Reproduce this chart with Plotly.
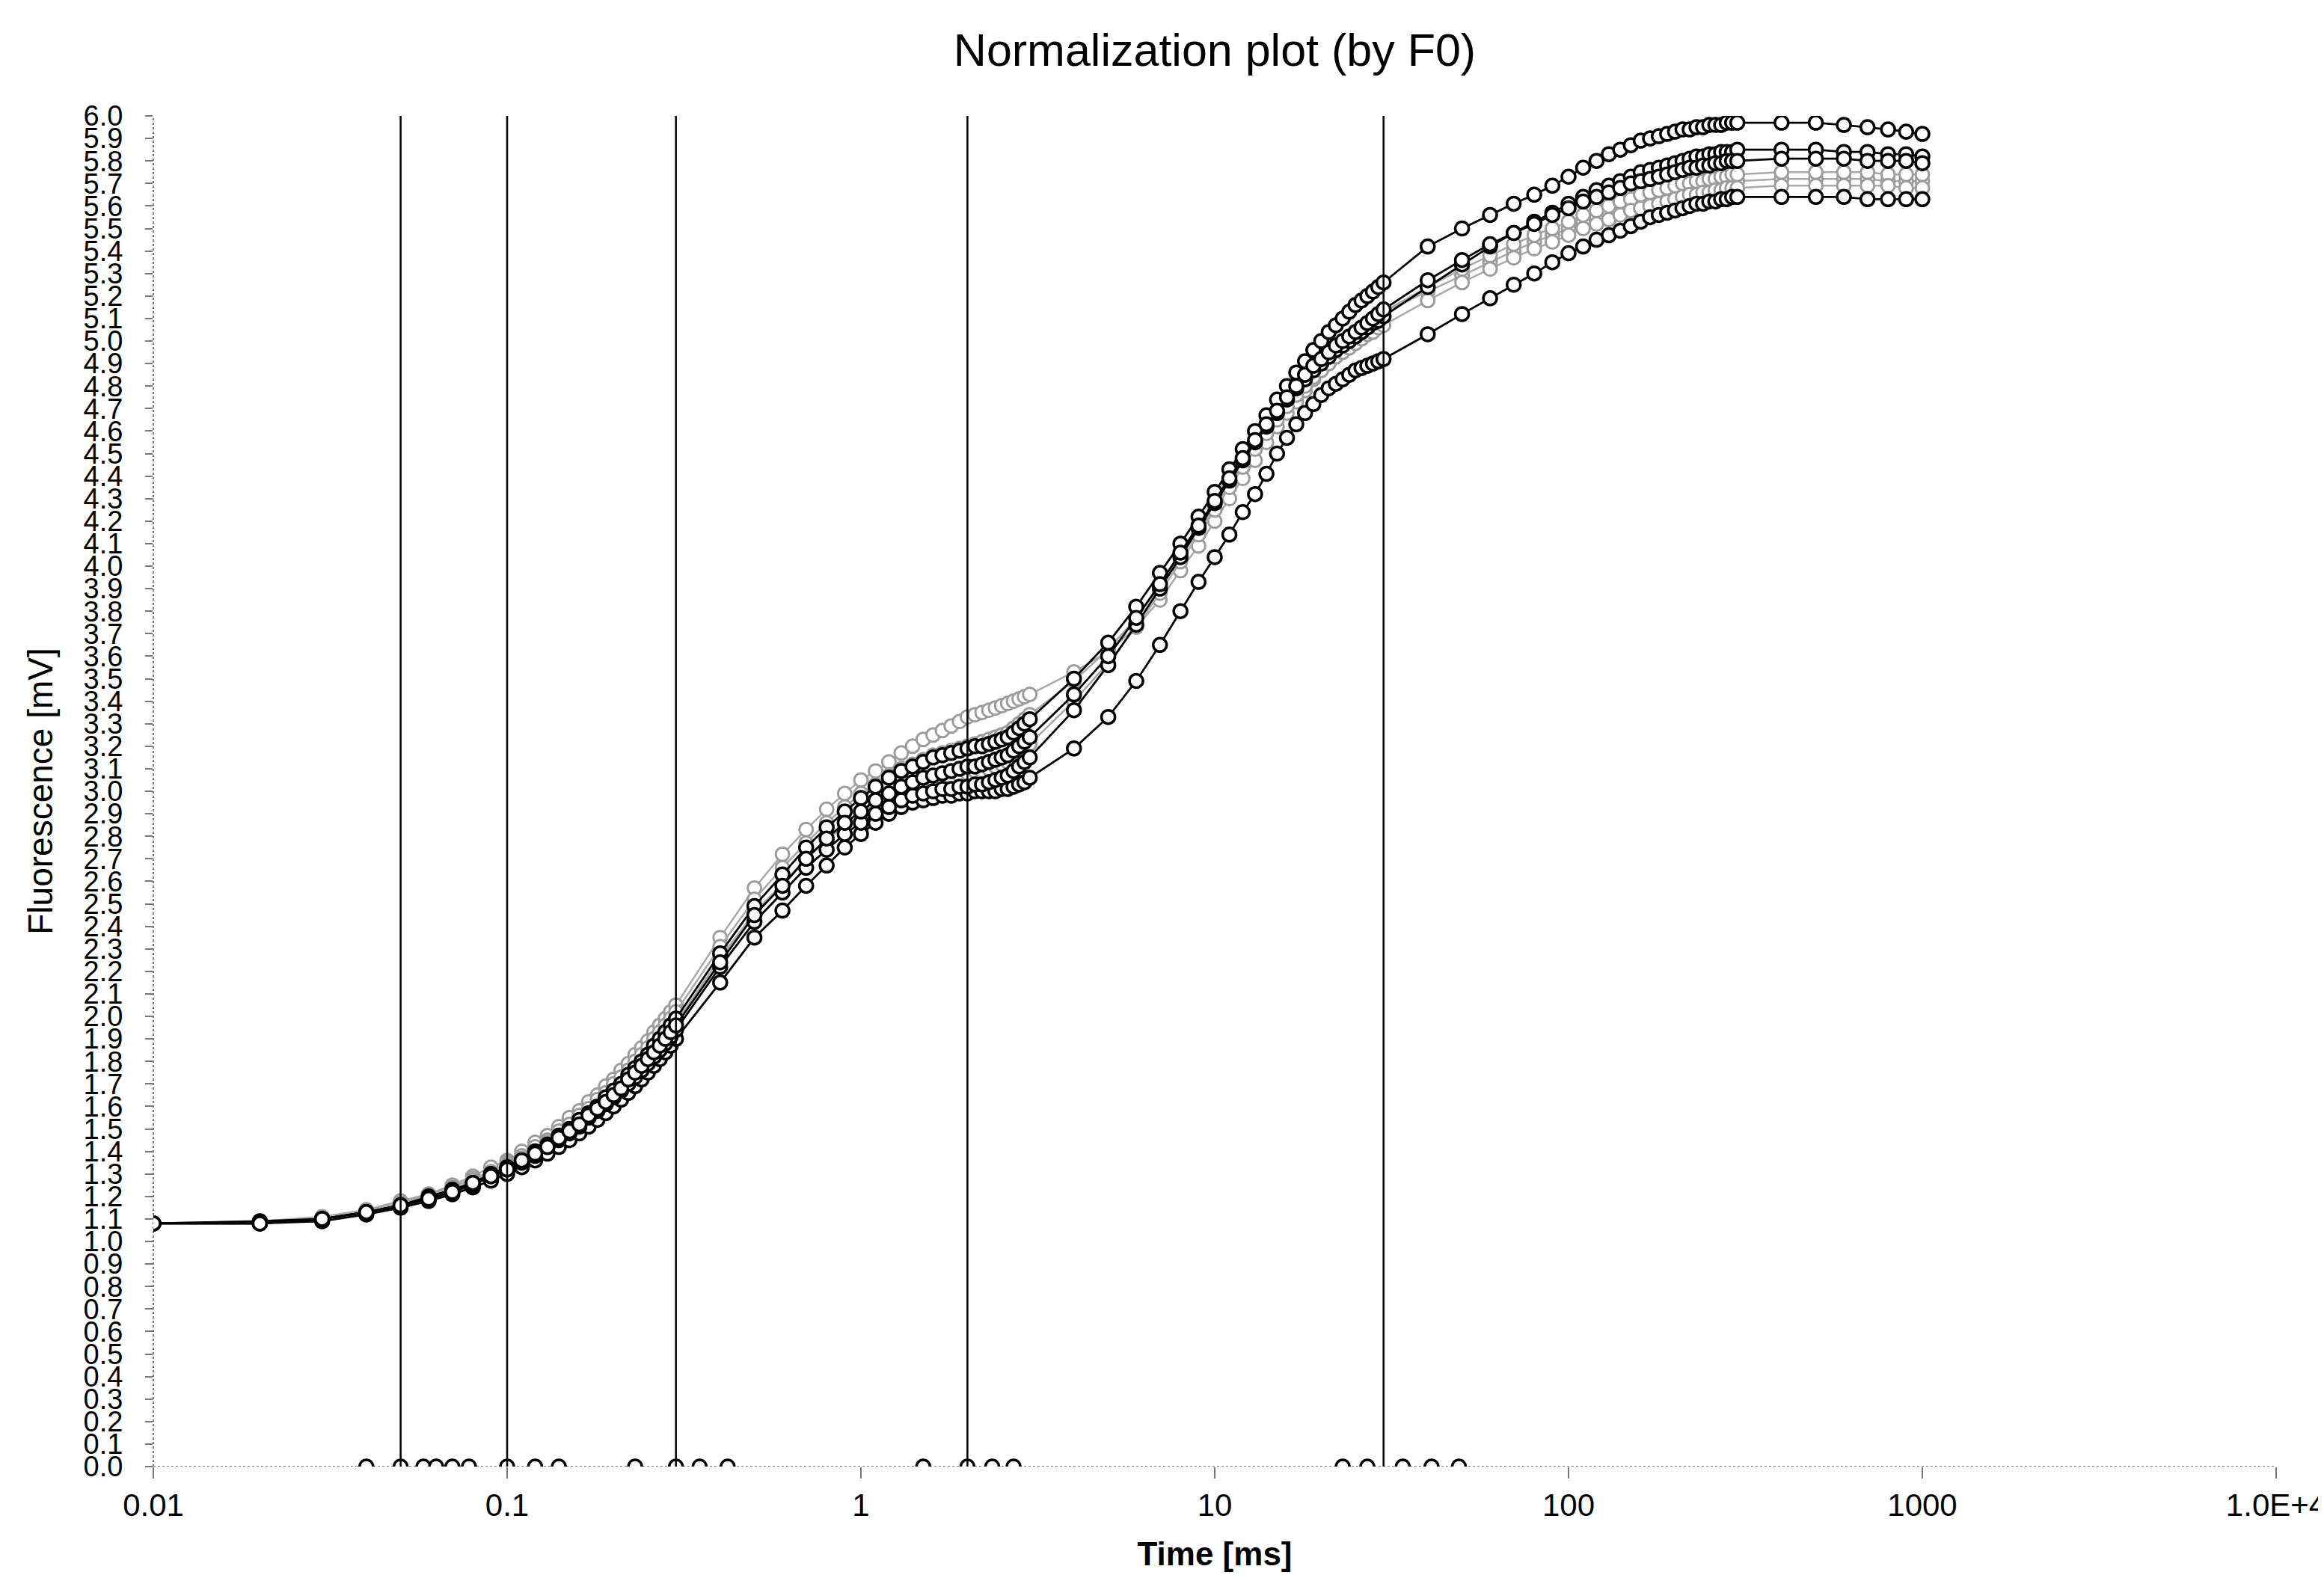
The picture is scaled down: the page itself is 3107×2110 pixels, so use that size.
import plotly.graph_objects as go

# ---------------- data ----------------
time_ms = [
    0.01, 0.02, 0.03, 0.04, 0.05, 0.06, 0.07, 0.08, 0.09, 0.10,
    0.11, 0.12, 0.13, 0.14, 0.15, 0.16, 0.17, 0.18, 0.19, 0.20,
    0.21, 0.22, 0.23, 0.24, 0.25, 0.26, 0.27, 0.28, 0.29, 0.30,
    0.4, 0.5, 0.6, 0.7, 0.8, 0.9, 1.0, 1.1, 1.2, 1.3, 1.4, 1.5, 1.6, 1.7,
    1.8, 1.9, 2.0, 2.1, 2.2, 2.3, 2.4, 2.5, 2.6, 2.7, 2.8, 2.9, 3.0,
    4, 5, 6, 7, 8, 9, 10, 11, 12, 13, 14, 15, 16, 17, 18, 19, 20,
    21, 22, 23, 24, 25, 26, 27, 28, 29, 30,
    40, 50, 60, 70, 80, 90, 100, 110, 120, 130, 140, 150, 160, 170,
    180, 190, 200, 210, 220, 230, 240, 250, 260, 270, 280, 290, 300,
    400, 500, 600, 700, 800, 900, 1000,
]

black_1 = [
    1.08, 1.08, 1.09, 1.12, 1.15, 1.18, 1.21, 1.24, 1.27, 1.30,
    1.33, 1.36, 1.39, 1.42, 1.45, 1.48, 1.51, 1.54, 1.57, 1.60,
    1.63, 1.66, 1.69, 1.72, 1.75, 1.78, 1.81, 1.84, 1.87, 1.90,
    2.15, 2.35, 2.47, 2.58, 2.67, 2.75, 2.81, 2.86, 2.90, 2.93, 2.95, 2.96, 2.97, 2.98,
    2.98, 2.99, 2.99, 3.00, 3.00, 3.00, 3.00, 3.01, 3.01, 3.02, 3.03, 3.04, 3.06,
    3.19, 3.33, 3.49, 3.65, 3.80, 3.93, 4.04, 4.14, 4.24, 4.32, 4.41, 4.50, 4.57, 4.63,
    4.68, 4.72, 4.76, 4.79, 4.81, 4.83, 4.85, 4.87, 4.88, 4.89, 4.90, 4.91, 4.92,
    5.03, 5.12, 5.19, 5.25, 5.30, 5.35, 5.39, 5.42, 5.45, 5.47, 5.49, 5.51, 5.53, 5.55,
    5.56, 5.57, 5.58, 5.59, 5.60, 5.61, 5.61, 5.62, 5.62, 5.63, 5.63, 5.64, 5.64,
    5.64, 5.64, 5.64, 5.63, 5.63, 5.63, 5.63,
]

black_2 = [
    1.08, 1.08, 1.10, 1.13, 1.16, 1.19, 1.22, 1.25, 1.29, 1.32,
    1.35, 1.38, 1.42, 1.45, 1.48, 1.51, 1.55, 1.58, 1.61, 1.64,
    1.67, 1.70, 1.73, 1.76, 1.79, 1.82, 1.85, 1.88, 1.91, 1.94,
    2.22, 2.42, 2.55, 2.66, 2.74, 2.81, 2.86, 2.90, 2.93, 2.96, 2.98, 2.99, 3.00, 3.01,
    3.01, 3.02, 3.02, 3.03, 3.03, 3.04, 3.05, 3.06, 3.07, 3.09, 3.11, 3.13, 3.15,
    3.36, 3.56, 3.74, 3.90, 4.04, 4.17, 4.28, 4.38, 4.47, 4.55, 4.62, 4.68, 4.74, 4.79,
    4.83, 4.87, 4.90, 4.93, 4.96, 4.98, 5.00, 5.02, 5.04, 5.06, 5.08, 5.09, 5.11,
    5.24, 5.34, 5.42, 5.48, 5.53, 5.57, 5.61, 5.64, 5.67, 5.69, 5.71, 5.73, 5.75, 5.76,
    5.77, 5.78, 5.79, 5.80, 5.81, 5.82, 5.82, 5.83, 5.83, 5.84, 5.84, 5.84, 5.85,
    5.85, 5.85, 5.84, 5.84, 5.83, 5.83, 5.82,
]

black_3 = [
    1.08, 1.09, 1.10, 1.13, 1.16, 1.20, 1.23, 1.26, 1.30, 1.33,
    1.36, 1.40, 1.43, 1.47, 1.50, 1.54, 1.57, 1.60, 1.64, 1.67,
    1.70, 1.74, 1.77, 1.80, 1.83, 1.87, 1.90, 1.93, 1.96, 1.99,
    2.28, 2.49, 2.63, 2.75, 2.84, 2.91, 2.97, 3.02, 3.06, 3.09, 3.11, 3.13, 3.15, 3.16,
    3.17, 3.18, 3.19, 3.20, 3.20, 3.21, 3.22, 3.23, 3.24, 3.26, 3.28, 3.30, 3.32,
    3.50, 3.66, 3.82, 3.97, 4.10, 4.22, 4.33, 4.43, 4.52, 4.60, 4.67, 4.74, 4.80, 4.86,
    4.91, 4.96, 5.00, 5.04, 5.07, 5.10, 5.13, 5.16, 5.18, 5.20, 5.22, 5.24, 5.26,
    5.42, 5.50, 5.56, 5.61, 5.65, 5.69, 5.73, 5.77, 5.80, 5.83, 5.85, 5.87, 5.89, 5.90,
    5.91, 5.92, 5.93, 5.94, 5.94, 5.95, 5.95, 5.96, 5.96, 5.96, 5.97, 5.97, 5.97,
    5.97, 5.97, 5.96, 5.95, 5.94, 5.93, 5.92,
]

black_4 = [
    1.08, 1.08, 1.10, 1.13, 1.16, 1.19, 1.22, 1.26, 1.29, 1.32,
    1.36, 1.39, 1.42, 1.46, 1.49, 1.52, 1.56, 1.59, 1.62, 1.65,
    1.68, 1.72, 1.75, 1.78, 1.81, 1.84, 1.87, 1.90, 1.93, 1.96,
    2.24, 2.45, 2.58, 2.70, 2.79, 2.86, 2.91, 2.96, 2.99, 3.02, 3.04, 3.06, 3.07, 3.08,
    3.09, 3.10, 3.11, 3.11, 3.12, 3.13, 3.14, 3.15, 3.16, 3.18, 3.20, 3.22, 3.24,
    3.43, 3.60, 3.77, 3.92, 4.06, 4.18, 4.29, 4.39, 4.48, 4.56, 4.63, 4.69, 4.75, 4.80,
    4.85, 4.89, 4.92, 4.95, 4.98, 5.00, 5.02, 5.04, 5.06, 5.08, 5.10, 5.12, 5.14,
    5.27, 5.36, 5.43, 5.48, 5.52, 5.56, 5.59, 5.62, 5.64, 5.66, 5.68, 5.70, 5.71, 5.72,
    5.73, 5.74, 5.75, 5.76, 5.77, 5.77, 5.78, 5.78, 5.79, 5.79, 5.80, 5.80, 5.80,
    5.81, 5.81, 5.81, 5.80, 5.80, 5.80, 5.79,
]

gray_1 = [
    1.08, 1.09, 1.11, 1.14, 1.18, 1.21, 1.25, 1.29, 1.33, 1.36,
    1.40, 1.44, 1.47, 1.51, 1.55, 1.58, 1.62, 1.65, 1.69, 1.72,
    1.76, 1.79, 1.83, 1.86, 1.89, 1.93, 1.96, 1.99, 2.02, 2.05,
    2.35, 2.57, 2.72, 2.83, 2.92, 2.99, 3.05, 3.09, 3.13, 3.17, 3.20, 3.23, 3.25, 3.27,
    3.29, 3.31, 3.33, 3.34, 3.35, 3.36, 3.37, 3.38, 3.39, 3.40, 3.41, 3.42, 3.43,
    3.53, 3.62, 3.73, 3.85, 3.98, 4.09, 4.20, 4.30, 4.39, 4.47, 4.55, 4.62, 4.68, 4.73,
    4.78, 4.83, 4.87, 4.90, 4.93, 4.96, 4.99, 5.02, 5.04, 5.07, 5.09, 5.11, 5.13,
    5.22, 5.29, 5.35, 5.40, 5.44, 5.47, 5.50, 5.53, 5.55, 5.57, 5.59, 5.60, 5.62, 5.63,
    5.64, 5.65, 5.66, 5.67, 5.67, 5.68, 5.68, 5.69, 5.69, 5.70, 5.70, 5.70, 5.71,
    5.72, 5.72, 5.72, 5.72, 5.71, 5.71, 5.71,
]

gray_2 = [
    1.08, 1.09, 1.10, 1.14, 1.17, 1.21, 1.24, 1.28, 1.31, 1.35,
    1.38, 1.42, 1.45, 1.49, 1.52, 1.56, 1.59, 1.63, 1.66, 1.70,
    1.73, 1.76, 1.80, 1.83, 1.86, 1.90, 1.93, 1.96, 1.99, 2.02,
    2.31, 2.52, 2.66, 2.77, 2.86, 2.93, 2.99, 3.03, 3.07, 3.10, 3.12, 3.14, 3.16, 3.17,
    3.18, 3.19, 3.20, 3.21, 3.22, 3.23, 3.24, 3.25, 3.26, 3.28, 3.30, 3.32, 3.34,
    3.49, 3.63, 3.77, 3.91, 4.04, 4.16, 4.26, 4.36, 4.45, 4.53, 4.60, 4.67, 4.73, 4.78,
    4.83, 4.87, 4.91, 4.94, 4.97, 5.00, 5.02, 5.04, 5.06, 5.08, 5.10, 5.11, 5.13,
    5.24, 5.32, 5.38, 5.43, 5.47, 5.50, 5.53, 5.56, 5.58, 5.60, 5.62, 5.63, 5.65, 5.66,
    5.67, 5.68, 5.69, 5.70, 5.70, 5.71, 5.71, 5.72, 5.72, 5.73, 5.73, 5.74, 5.74,
    5.75, 5.75, 5.75, 5.75, 5.74, 5.74, 5.74,
]

gray_3 = [
    1.08, 1.08, 1.10, 1.13, 1.17, 1.20, 1.23, 1.27, 1.30, 1.34,
    1.37, 1.40, 1.44, 1.47, 1.50, 1.54, 1.57, 1.60, 1.63, 1.67,
    1.70, 1.73, 1.76, 1.79, 1.82, 1.85, 1.88, 1.91, 1.94, 1.97,
    2.26, 2.46, 2.59, 2.70, 2.78, 2.85, 2.90, 2.94, 2.97, 3.00, 3.02, 3.03, 3.04, 3.05,
    3.06, 3.07, 3.08, 3.09, 3.09, 3.10, 3.11, 3.12, 3.13, 3.15, 3.17, 3.19, 3.21,
    3.40, 3.57, 3.73, 3.88, 4.02, 4.14, 4.25, 4.35, 4.44, 4.52, 4.59, 4.65, 4.71, 4.76,
    4.80, 4.84, 4.87, 4.90, 4.93, 4.95, 4.97, 4.99, 5.01, 5.03, 5.04, 5.06, 5.07,
    5.18, 5.26, 5.32, 5.37, 5.41, 5.44, 5.47, 5.50, 5.52, 5.54, 5.56, 5.58, 5.59, 5.60,
    5.61, 5.62, 5.63, 5.64, 5.65, 5.65, 5.66, 5.66, 5.67, 5.67, 5.68, 5.68, 5.68,
    5.69, 5.69, 5.69, 5.69, 5.69, 5.68, 5.68,
]

# points sitting on the time axis (value 0)
axis_point_times = [0.04, 0.05, 0.058, 0.063, 0.07, 0.078, 0.1, 0.12, 0.14,
                    0.23, 0.3, 0.35, 0.42, 1.5, 2, 2.35, 2.7,
                    23, 27, 34, 41, 49]
axis_point_values = [0] * len(axis_point_times)

# characteristic times (O, K, J, I, P markers)
marker_lines_ms = [0.05, 0.1, 0.3, 2, 30]
y_min, y_max = 0.0, 6.0

x_tick_vals = [0.01, 0.1, 1, 10, 100, 1000, 10000]
x_tick_text = ["0.01", "0.1", "1", "10", "100", "1000", "1.0E+4"]

# ---------------- figure ----------------
fig = go.Figure()

gray_series = [gray_1, gray_2, gray_3]
black_series = [black_1, black_2, black_3, black_4]

MS = 18

for s in gray_series:
    fig.add_trace(go.Scatter(
        x=time_ms, y=s, mode="lines+markers",
        line=dict(color="#a9a9a9", width=2.5),
        marker=dict(symbol="circle", size=MS, color="white",
                    line=dict(color="#9c9c9c", width=3)),
        showlegend=False))

for s in black_series:
    fig.add_trace(go.Scatter(
        x=time_ms, y=s, mode="lines+markers",
        line=dict(color="black", width=2.8),
        marker=dict(symbol="circle", size=MS, color="white",
                    line=dict(color="black", width=3.5)),
        showlegend=False))

fig.add_trace(go.Scatter(
    x=axis_point_times, y=axis_point_values, mode="markers",
    marker=dict(symbol="circle", size=MS, color="white",
                line=dict(color="black", width=3.5)),
    cliponaxis=True, showlegend=False))

for t in marker_lines_ms:
    fig.add_trace(go.Scatter(
        x=[t, t], y=[y_min, y_max], mode="lines",
        line=dict(color="black", width=2.5),
        showlegend=False, hoverinfo="skip"))

# dotted axis lines
fig.add_shape(type="line", xref="paper", yref="y", x0=0, x1=1, y0=0, y1=0,
              line=dict(color="#777777", width=2, dash="dot"), layer="below")
fig.add_shape(type="line", xref="paper", yref="y", x0=0, x1=0, y0=0, y1=6,
              line=dict(color="#777777", width=2, dash="dot"), layer="below")

fig.update_layout(
    width=3107, height=2110,
    margin=dict(l=197, r=72, t=147, b=157),
    paper_bgcolor="white", plot_bgcolor="white",
    font=dict(family="Liberation Sans, Arial, sans-serif", color="black"),
    title=dict(text="Normalization plot (by F0)", x=0.5, xref="paper",
               xanchor="center", y=0.972, yanchor="middle",
               font=dict(family="Liberation Sans, Arial, sans-serif", size=61, color="black")),
    showlegend=False,
)

fig.update_xaxes(
    type="log", range=[-2, 4],
    tickmode="array", tickvals=x_tick_vals, ticktext=x_tick_text,
    ticks="outside", ticklen=15, tickwidth=2, tickcolor="#777777",
    showline=False, showgrid=False, zeroline=False,
    tickfont=dict(size=42, family="Liberation Sans Narrow, Liberation Sans, Arial, sans-serif"),
    title=dict(text="<b>Time [ms]</b>", standoff=26,
               font=dict(size=44, family="Liberation Sans Narrow, Liberation Sans, Arial, sans-serif")),
    automargin=False,
)

fig.update_yaxes(
    range=[y_min, y_max], tickmode="linear", tick0=0, dtick=0.1,
    tickformat=".1f",
    ticks="outside", ticklen=10, tickwidth=2, tickcolor="#777777",
    ticklabelstandoff=22,
    showline=False, showgrid=False, zeroline=False,
    tickfont=dict(size=38, family="Liberation Sans, Arial, sans-serif"),
    title=dict(text="Fluorescence [mV]", standoff=26,
               font=dict(size=46, family="Liberation Sans, Arial, sans-serif")),
    automargin=False,
)

fig.write_html("out.html")
